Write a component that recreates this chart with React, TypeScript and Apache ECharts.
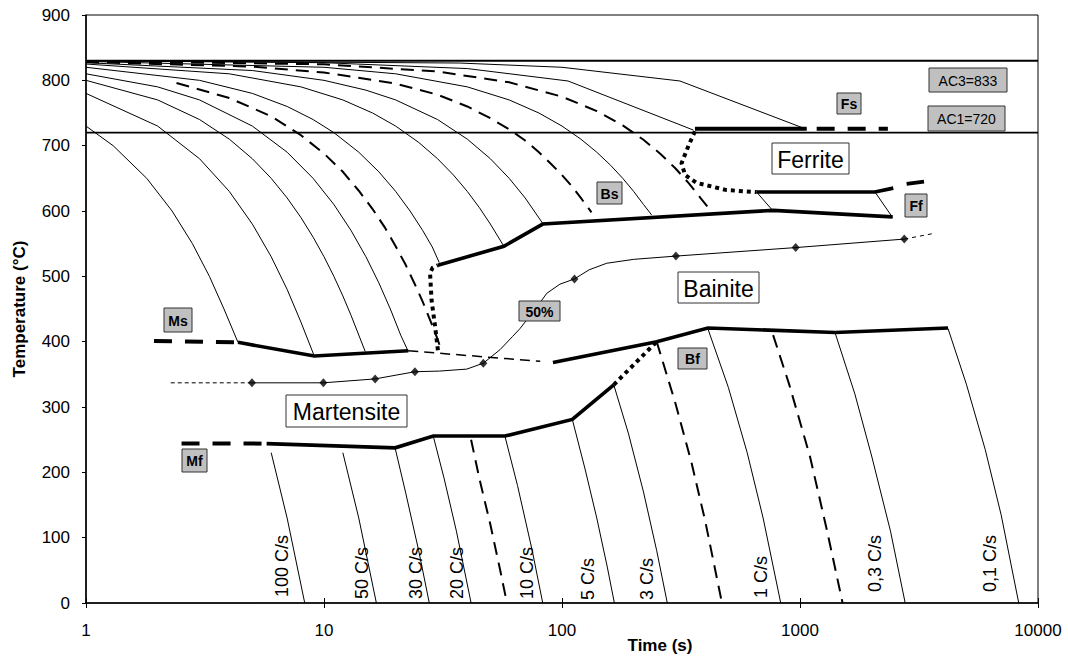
import React, { useEffect, useRef } from "react";
import * as echarts from "echarts";

// ---------- data (time s, temperature °C) ----------
const xTickValues = [1, 10, 100, 1000, 10000];
const acLevels = [830, 720];

// cooling curves: upper part (above transformation) and lower part (below)
const c100Top = [[1, 730], [1.3, 700], [1.8, 650], [2.3, 600], [2.8, 550], [3.3, 500], [3.8, 450], [4.35, 399]];
const c100Bot = [[6, 230], [7, 130], [8.3, 0]];
const c50Top = [[1, 780], [2, 730], [3, 680], [4, 630], [5, 580], [6, 530], [7, 480], [8, 430], [9.1, 378]];
const c50Bot = [[12, 230], [14, 130], [16.6, 0]];
const c30Top = [[1, 800], [2, 770], [3, 740], [4, 710], [5, 680], [6, 650], [7, 620], [8, 590], [9, 560], [10, 530], [11, 500], [12, 470], [13, 440], [14.9, 385]];
const c30Bot = [[19.9, 237], [22, 170], [25, 80], [27.7, 0]];
const c20Top = [[1, 810], [2, 790], [3, 770], [5, 730], [7, 690], [9, 650], [11, 610], [13, 570], [15, 530], [17, 490], [19, 450], [21, 410], [22.6, 385]];
const c20Bot = [[28.8, 255], [32, 190], [36, 110], [41.5, 0]];
const d14Top = [[2.4, 796], [4, 773], [6, 745], [8, 716], [10, 688], [12, 660], [14, 631], [16, 603], [18, 575], [20, 546], [22, 518], [24, 489], [26, 461], [28, 432], [30, 404], [31, 388]];
const d14Bot = [[41.5, 250], [45, 190], [50, 120], [55, 50], [58.7, 0]];
const c10Top = [[1, 820], [3, 800], [5, 780], [7, 760], [9, 740], [11, 720], [14, 690], [17, 660], [20, 630], [23, 600], [26, 570], [28.5, 545], [30.5, 521]];
const c10Bot = [[57.6, 255], [65, 180], [75, 80], [83, 0]];
const c5Top = [[1, 825], [4, 810], [8, 790], [12, 770], [16, 750], [20, 730], [25, 705], [30, 680], [35, 655], [40, 630], [45, 605], [50, 580], [57, 546]];
const c5Bot = [[110.5, 281], [125, 205], [140, 130], [155, 55], [166, 0]];
const c3Top = [[1, 827], [5, 815], [10, 800], [15, 785], [20, 770], [30, 740], [40, 710], [50, 680], [60, 650], [70, 620], [83, 581]];
const c3Bot = [[165, 334], [190, 260], [220, 170], [250, 80], [277, 0]];
const d2Top = [[1, 828], [5, 821], [10, 812], [20, 795], [30, 778], [40, 760], [50, 742], [60, 725], [70, 708], [80, 690], [90, 672], [100, 655], [110, 638], [120, 620], [133, 598]];
const d2Bot = [[250, 400], [300, 305], [350, 215], [400, 125], [470, 0]];
const c1Top = [[1, 829], [10, 820], [20, 810], [40, 790], [60, 770], [80, 750], [100, 730], [120, 710], [140, 690], [160, 670], [180, 650], [200, 630], [220, 610], [238, 594]];
const c1Bot = [[410, 420], [500, 330], [600, 230], [700, 130], [830, 0]];
const d05Top = [[1, 829.5], [10, 824.5], [30, 813.5], [60, 797], [100, 775], [140, 753], [180, 731], [220, 709], [260, 687], [300, 665], [340, 643], [380, 621], [425, 599]];
const d05Bot = [[771, 410], [900, 335], [1100, 225], [1300, 110], [1510, 0]];
const c03Top = [[1, 830], [10, 827], [40, 818], [106, 799], [356, 724]];
const c03Mid = [[657, 629], [771, 600]];
const c03Bot = [[1403, 414], [1700, 320], [2000, 225], [2400, 110], [2767, 0]];
const c01Top = [[1, 830], [37, 826.5], [100, 820], [313, 799], [1067, 725]];
const c01Mid = [[2066, 629], [2450, 590]];
const c01Bot = [[4188, 420], [5000, 335], [6000, 235], [7000, 135], [8300, 0]];

// transformation lines
const msDash = [[1.93, 401], [4.35, 399]];
const msSolid = [[4.35, 399], [9.1, 378], [22.6, 386]];
const msBsDash = [[22.6, 386], [81, 370]];
const mfDash = [[2.52, 244], [5.74, 244]];
const mfSolid = [[5.74, 244], [19.9, 237.5], [28.8, 255.5], [57.6, 255.5], [110.5, 281], [165, 334]];
const bfDot = [[165, 334], [253, 402]];
const bfSolid = [[91.6, 368], [250, 400], [410, 421], [1403, 414], [4188, 421]];
const bsDot = [[30.1, 387], [29.3, 423], [28.3, 464], [27.9, 505], [28.6, 513], [30.1, 517]];
const bsSolid = [[30.1, 517], [57, 546], [83, 580], [771, 601], [2450, 591]];
const fsSolid = [[362, 726], [1067, 726]];
const fsDash = [[1175, 726], [2340, 726]];
const fsDot = [[362, 722], [340, 700], [318, 673], [329, 655], [368, 643], [492, 632], [657, 629]];
const ffSolid = [[657, 629], [2066, 629], [2466, 635]];
const ffTail = [[2806, 641.5], [3319, 645]];

// 50 % transformation curve
const fiftyLeft = [[2.27, 337], [4.98, 337]];
const fiftyCurve = [[4.98, 337], [9.94, 337], [16.4, 343], [24.1, 354], [30.6, 355], [39.8, 358], [46.7, 367], [55, 388], [62, 408], [66.6, 420], [71, 433], [78, 452], [86.3, 474], [98, 488], [112.8, 496], [130, 510], [154, 520], [200, 526], [301, 531], [959, 544], [2742, 557]];
const fiftyPoints = [[4.98, 337], [9.94, 337], [16.4, 343], [24.1, 354], [46.7, 367], [112.8, 496], [301, 531], [959, 544], [2742, 557]];
const fiftyRight = [[2742, 557], [3690, 566]];

const rateLabels = ["100 C/s", "50 C/s", "30 C/s", "20 C/s", "10 C/s", "5 C/s", "3 C/s", "1 C/s", "0,3 C/s", "0,1 C/s"];

// ---------- presentation ----------
const FONT = '"Liberation Sans", Arial, sans-serif';
const rateLabelPos = [
  [281.7, 597], [361.7, 599], [416, 599], [457.3, 599], [526.7, 599],
  [588.3, 600], [646.7, 600], [761, 598], [875, 592], [990, 592],
];

function ln(data: number[][], width: number, dash?: any, z = 2) {
  return {
    type: "line",
    data,
    symbol: "none",
    showSymbol: false,
    silent: true,
    z,
    lineStyle: { color: "#000", width, type: dash || "solid", cap: "butt", join: "miter" },
  };
}

function grayBox(x: number, y: number, w: number, h: number, text: string, bold = true) {
  return [
    { type: "rect", z: 100, shape: { x, y, width: w, height: h }, style: { fill: "#c0c0c0", stroke: "#333", lineWidth: 1 } },
    {
      type: "text", z: 101, x: x + w / 2, y: y + h / 2 + 0.5,
      style: { text, font: `${bold ? "bold " : ""}14px ${FONT}`, fill: "#000", align: "center", verticalAlign: "middle", textAlign: "center", textVerticalAlign: "middle" },
    },
  ];
}
function whiteBox(x: number, y: number, w: number, h: number, text: string) {
  return [
    { type: "rect", z: 100, shape: { x, y, width: w, height: h }, style: { fill: "#fff", stroke: "#333", lineWidth: 1 } },
    {
      type: "text", z: 101, x: x + w / 2, y: y + h / 2 + 1,
      style: { text, font: `23px ${FONT}`, fill: "#000", align: "center", verticalAlign: "middle", textAlign: "center", textVerticalAlign: "middle" },
    },
  ];
}

export default function App() {
  const ref = useRef<HTMLDivElement>(null);
  useEffect(() => {
    if (!ref.current) return;
    const chart = echarts.init(ref.current, undefined, { renderer: "svg" });
    const thin = 1;
    const dashC = [13, 8];
    const thick = 3.6;
    const dots = [4, 4];
    const series: any[] = [
      ln([[1, acLevels[0]], [10000, acLevels[0]]], 1.8),
      ln([[1, acLevels[1]], [10000, acLevels[1]]], 1.8),
      ln(c100Top, thin), ln(c100Bot, thin),
      ln(c50Top, thin), ln(c50Bot, thin),
      ln(c30Top, thin), ln(c30Bot, thin),
      ln(c20Top, thin), ln(c20Bot, thin),
      ln(d14Top, 2, dashC), ln(d14Bot, 2, dashC),
      ln(c10Top, thin), ln(c10Bot, thin),
      ln(c5Top, thin), ln(c5Bot, thin),
      ln(c3Top, thin), ln(c3Bot, thin),
      ln(d2Top, 2, dashC), ln(d2Bot, 2, dashC),
      ln(c1Top, thin), ln(c1Bot, thin),
      ln(d05Top, 2, dashC), ln(d05Bot, 2, dashC),
      ln(c03Top, thin), ln(c03Mid, thin), ln(c03Bot, thin),
      ln(c01Top, thin), ln(c01Mid, thin), ln(c01Bot, thin),
      ln(msDash, 4, [18, 13], 5),
      ln(msSolid, thick, undefined, 5),
      ln(msBsDash, 1.5, [10, 6], 5),
      ln(mfDash, 4, [18, 13], 5),
      ln(mfSolid, thick, undefined, 5),
      ln(bfDot, 4, dots, 5),
      ln(bfSolid, thick, undefined, 5),
      ln(bsDot, 4, dots, 5),
      ln(bsSolid, thick, undefined, 5),
      ln(fsSolid, 4, undefined, 5),
      ln(fsDash, 4, [18, 13], 5),
      ln(fsDot, 4, dots, 5),
      ln(ffSolid, thick, undefined, 5),
      ln(ffTail, thick, undefined, 5),
      ln(fiftyLeft, 1, [4, 3], 4),
      ln(fiftyCurve, 1, undefined, 4),
      ln(fiftyRight, 1, [4, 4], 4),
      {
        type: "scatter", data: fiftyPoints, symbol: "diamond", symbolSize: [8, 9], silent: true, z: 6,
        itemStyle: { color: "#000" },
      },
    ];

    const graphics: any[] = [
      ...grayBox(164, 308, 28, 24, "Ms"),
      ...grayBox(182, 449, 25, 23, "Mf"),
      ...grayBox(597, 182, 25, 22, "Bs"),
      ...grayBox(519, 301, 41, 20, "50%"),
      ...grayBox(678, 348, 29, 21, "Bf"),
      ...grayBox(837, 93, 24, 21, "Fs"),
      ...grayBox(905, 194, 22, 23, "Ff"),
      ...grayBox(929, 68, 78, 24, "AC3=833", false),
      ...grayBox(928, 106, 77, 25, "AC1=720", false),
      ...whiteBox(772, 143, 77, 31, "Ferrite"),
      ...whiteBox(678, 272, 81, 31, "Bainite"),
      ...whiteBox(286, 395, 121, 32, "Martensite"),
      ...rateLabels.map((t, i) => ({
        type: "text", z: 101, x: rateLabelPos[i][0], y: rateLabelPos[i][1], rotation: Math.PI / 2,
        style: { text: t, font: `18px ${FONT}`, fill: "#000", align: "left", verticalAlign: "middle", textAlign: "left", textVerticalAlign: "middle" },
      })),
      {
        type: "text", z: 101, x: 660, y: 645,
        style: { text: "Time (s)", font: `bold 17px ${FONT}`, fill: "#000", align: "center", verticalAlign: "middle", textAlign: "center", textVerticalAlign: "middle" },
      },
    ];

    chart.setOption({
      animation: false,
      backgroundColor: "#fff",
      grid: {
        left: 86, right: 30, top: 15, bottom: 56, containLabel: false, outerBoundsMode: "none",
        show: true, borderColor: "#000", borderWidth: 1, backgroundColor: "transparent",
      },
      xAxis: [
        {
          type: "log", logBase: 10, min: xTickValues[0], max: xTickValues[xTickValues.length - 1],
          axisLine: { show: true, onZero: false, lineStyle: { color: "#000", width: 1.5 } },
          axisTick: { show: true, inside: false, length: 5, lineStyle: { color: "#000" } },
          minorTick: { show: false },
          splitLine: { show: false },
          axisLabel: { color: "#000", fontSize: 17, fontFamily: FONT, margin: 19, formatter: (v: number) => String(Math.round(v)) },
        },
        {
          type: "log", logBase: 10, min: xTickValues[0], max: xTickValues[xTickValues.length - 1], position: "bottom",
          axisLine: { show: false },
          axisTick: { show: true, inside: true, length: 5, lineStyle: { color: "#000" } },
          axisLabel: { show: false }, splitLine: { show: false },
        },
      ],
      yAxis: {
        type: "value", min: 0, max: 900, interval: 100,
        name: "Temperature (°C)", nameLocation: "middle", nameGap: 58,
        nameTextStyle: { color: "#000", fontSize: 17, fontWeight: "bold", fontFamily: FONT },
        axisLine: { show: true, lineStyle: { color: "#000", width: 1.5 } },
        axisTick: { show: true, inside: false, length: 4, lineStyle: { color: "#000" } },
        splitLine: { show: false },
        axisLabel: { color: "#000", fontSize: 17, fontFamily: FONT, margin: 16 },
      },
      series,
      graphic: graphics,
    });
    return () => chart.dispose();
  }, []);
  return <div ref={ref} style={{ position: "absolute", left: 0, top: 0, width: 1068, height: 659 }} />;
}
